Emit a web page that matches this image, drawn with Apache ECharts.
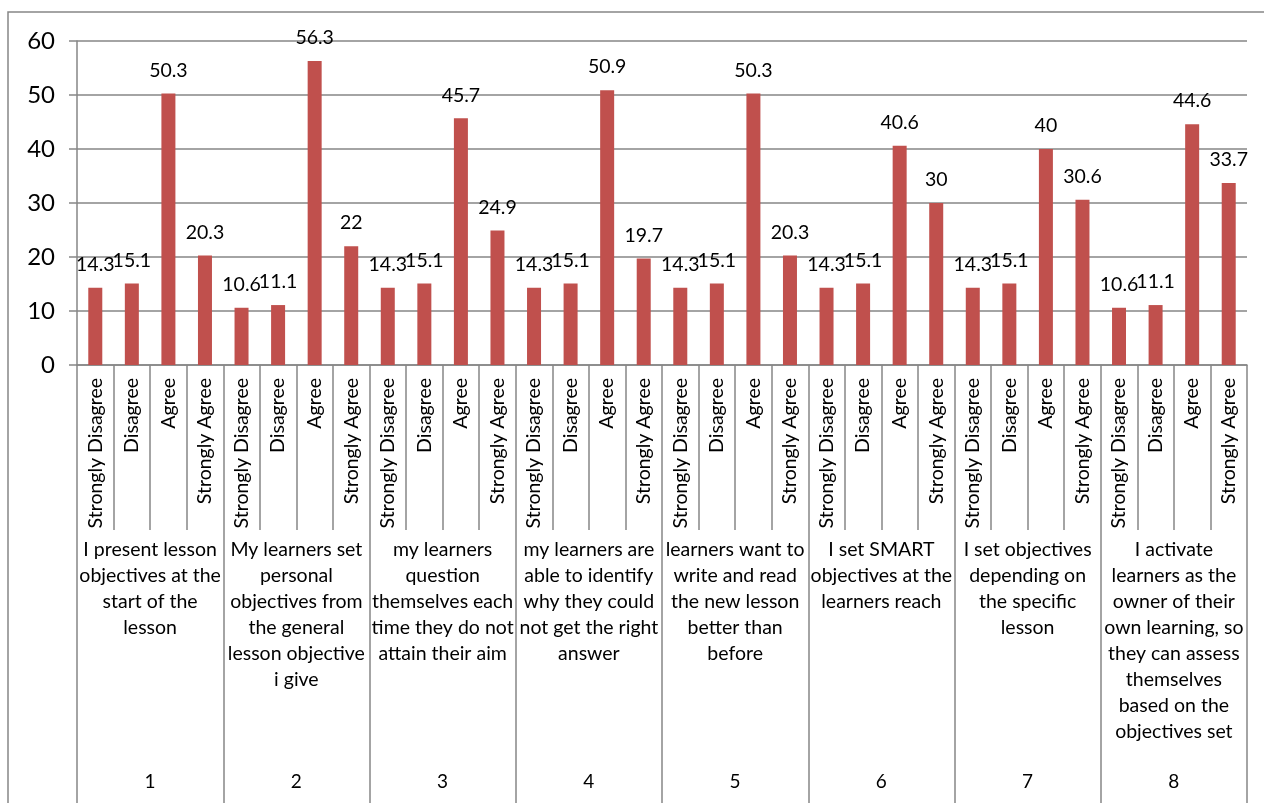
<!DOCTYPE html>
<html>
<head>
<meta charset="utf-8">
<script src="https://cdn.jsdelivr.net/npm/echarts@6/dist/echarts.min.js"></script>
<style>
  html, body { margin: 0; padding: 0; background: #fff; }
  #main { width: 1264px; height: 803px; }
</style>
</head>
<body>
<div id="main"></div>
<script>
var answers = ['Strongly Disagree', 'Disagree', 'Agree', 'Strongly Agree'];
var statements = [
  'I present lesson\nobjectives at the\nstart of the\nlesson',
  'My learners set\npersonal\nobjectives from\nthe general\nlesson objective\ni give',
  'my learners\nquestion\nthemselves each\ntime they do not\nattain their aim',
  'my learners are\nable to identify\nwhy they could\nnot get the right\nanswer',
  'learners want to\nwrite and read\nthe new lesson\nbetter than\nbefore',
  'I set SMART\nobjectives at the\nlearners reach',
  'I set objectives\ndepending on\nthe specific\nlesson',
  'I activate\nlearners as the\nowner of their\nown learning, so\nthey can assess\nthemselves\nbased on the\nobjectives set'
];
var itemNumbers = ['1', '2', '3', '4', '5', '6', '7', '8'];
var percents = [
  14.3, 15.1, 50.3, 20.3,
  10.6, 11.1, 56.3, 22,
  14.3, 15.1, 45.7, 24.9,
  14.3, 15.1, 50.9, 19.7,
  14.3, 15.1, 50.3, 20.3,
  14.3, 15.1, 40.6, 30,
  14.3, 15.1, 40, 30.6,
  10.6, 11.1, 44.6, 33.7
];

// one answer label per bar
var barLabels = [];
for (var i = 0; i < statements.length; i++) {
  for (var j = 0; j < answers.length; j++) {
    barLabels.push(answers[j]);
  }
}

var font = 'Lato, "Noto Sans", sans-serif';
var lineColor = '#868686';

var myChart = echarts.init(document.getElementById('main'));
myChart.setOption({
  animation: false,
  textStyle: { fontFamily: font },
  grid: {
    left: 77,
    right: 17,
    top: 41,
    bottom: 438
  },
  graphic: [{
    type: 'rect',
    shape: { x: 8, y: 12, width: 1270, height: 800 },
    style: { fill: 'none', stroke: lineColor, lineWidth: 1.5 },
    silent: true
  }],
  xAxis: [{
      type: 'category',
      data: barLabels,
      axisLine: { show: true, lineStyle: { color: lineColor, width: 1.5 } },
      axisTick: { show: true, interval: 0, length: 165, lineStyle: { color: lineColor, width: 1.5 } },
      axisLabel: {
        interval: 0,
        rotate: 90,
        margin: 13,
        fontSize: 19.5,
        color: '#000',
        fontFamily: font
      }
    },
    {
      type: 'category',
      data: statements,
      position: 'bottom',
      axisLine: { show: false },
      axisTick: { show: true, interval: 0, length: 440, lineStyle: { color: lineColor, width: 1.5 } },
      axisLabel: {
        interval: 0,
        margin: 172,
        fontSize: 19.5,
        lineHeight: 26,
        color: '#000',
        fontFamily: font
      }
    },
    {
      type: 'category',
      data: itemNumbers,
      position: 'bottom',
      axisLine: { show: false },
      axisTick: { show: false },
      axisLabel: {
        interval: 0,
        margin: 407,
        fontSize: 19,
        color: '#000',
        fontFamily: font
      }
    }
  ],
  yAxis: {
    type: 'value',
    min: 0,
    max: 60,
    interval: 10,
    axisLine: { show: true, lineStyle: { color: lineColor, width: 1.5 } },
    axisTick: { show: true, length: 8, lineStyle: { color: lineColor, width: 1.5 } },
    splitLine: { show: true, lineStyle: { color: lineColor, width: 1.5 } },
    axisLabel: { fontSize: 24, color: '#000', margin: 22, fontFamily: font }
  },
  series: [{
    name: 'percent',
    type: 'bar',
    xAxisIndex: 0,
    data: percents,
    barWidth: 14,
    itemStyle: { color: '#C0504D' },
    label: {
      show: true,
      position: 'top',
      distance: 13,
      fontSize: 19.5,
      color: '#000',
      fontFamily: font
    }
  }]
});
</script>
</body>
</html>
